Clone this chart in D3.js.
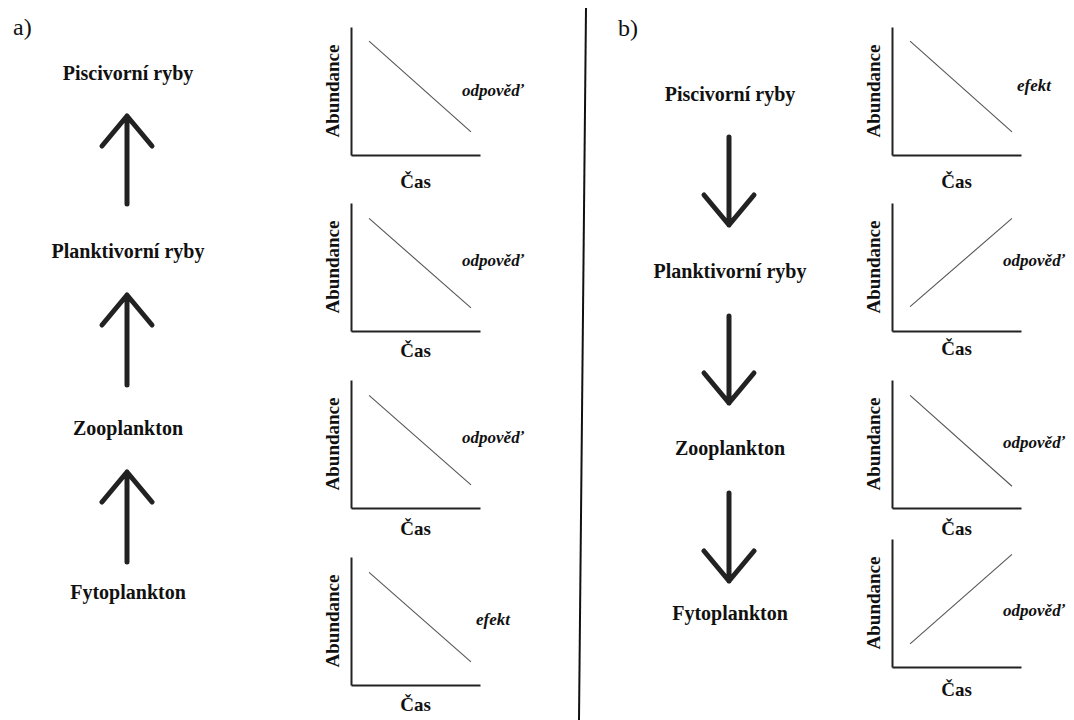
<!DOCTYPE html>
<html>
<head>
<meta charset="utf-8">
<script src="https://cdn.jsdelivr.net/npm/d3@7"></script>
<style>
  html, body { margin: 0; padding: 0; background: #fff; }
  svg { display: block; }
</style>
</head>
<body>
<svg id="chart" width="1074" height="720"></svg>
<script>
// ---------------- data ----------------
const panelLabels = ["a)", "b)"];
const levelsA = ["Piscivorní ryby", "Planktivorní ryby", "Zooplankton", "Fytoplankton"];
const levelsB = ["Piscivorní ryby", "Planktivorní ryby", "Zooplankton", "Fytoplankton"];
const arrowDirA = ["up", "up", "up"];
const arrowDirB = ["down", "down", "down"];
const timeSpan = [0.14, 0.93];               // start / end on the Čas axis
const abundanceA = [[0.89, 0.18], [0.88, 0.18], [0.88, 0.18], [0.88, 0.18]];
const abundanceB = [[0.89, 0.18], [0.19, 0.88], [0.88, 0.17], [0.18, 0.88]];
const roleA = ["odpověď", "odpověď", "odpověď", "efekt"];
const roleB = ["efekt", "odpověď", "odpověď", "odpověď"];
const axisTitleX = "Čas";
const axisTitleY = "Abundance";

// ---------------- layout ----------------
const FONT = "Liberation Serif";
const layout = {
  a: { labelX: 13, labelY: 35, levelX: 128, levelY: [80, 258, 435, 599],
       arrowX: 127, arrows: [[116, 204], [295, 385], [472, 562]],
       chartX: 351, chartTops: [27, 203, 380, 557], casOff: [33, 26, 27, 26],
       roleOff: [69, 63, 63, 68] },
  b: { labelX: 618, labelY: 36, levelX: 730, levelY: [101, 278, 455, 620],
       arrowX: 729, arrows: [[137, 225], [316, 403], [493, 581]],
       chartX: 892, chartTops: [27, 203, 380, 539], casOff: [33, 24, 27, 29],
       roleOff: [64, 63, 68, 77] },
  chartW: 129, chartH: 128
};

const svg = d3.select("#chart");

// divider
svg.append("line")
  .attr("x1", 586).attr("y1", 8).attr("x2", 579).attr("y2", 720)
  .attr("stroke", "#111").attr("stroke-width", 2);

function txt(g) {
  return g.append("text").style("font-family", FONT).attr("fill", "#111");
}

function drawArrow(g, x, yA, yB, dir) {
  const tip = dir === "up" ? Math.min(yA, yB) : Math.max(yA, yB);
  const tail = dir === "up" ? Math.max(yA, yB) : Math.min(yA, yB);
  const s = dir === "up" ? 1 : -1;
  const p = d3.path();
  p.moveTo(x, tail); p.lineTo(x, tip);
  p.moveTo(x - 25, tip + s * 30); p.lineTo(x, tip); p.lineTo(x + 25, tip + s * 30);
  g.append("path").attr("d", p.toString())
    .attr("fill", "none").attr("stroke", "#222").attr("stroke-width", 5)
    .attr("stroke-linecap", "round").attr("stroke-linejoin", "round");
}

function drawPanel(L, label, levels, dirs, abundance, roles) {
  const g = svg.append("g");
  txt(g).attr("x", L.labelX).attr("y", L.labelY)
    .style("font-size", "24px").text(label);

  levels.forEach((t, i) => {
    txt(g).attr("x", L.levelX).attr("y", L.levelY[i])
      .attr("text-anchor", "middle").style("font-size", "20px").style("font-weight", "bold")
      .text(t);
  });
  dirs.forEach((d, i) => drawArrow(g, L.arrowX, L.arrows[i][0], L.arrows[i][1], d));

  abundance.forEach((vals, i) => {
    const top = L.chartTops[i];
    const x = d3.scaleLinear().domain([0, 1]).range([L.chartX, L.chartX + layout.chartW]);
    const y = d3.scaleLinear().domain([0, 1]).range([top + layout.chartH, top]);
    const cg = g.append("g");

    const ax = cg.append("g").attr("transform", `translate(0,${top + layout.chartH})`)
      .call(d3.axisBottom(x).ticks(0).tickSizeOuter(0));
    const ay = cg.append("g").attr("transform", `translate(${L.chartX},0)`)
      .call(d3.axisLeft(y).ticks(0).tickSizeOuter(0));
    [ax, ay].forEach(a => a.select(".domain").attr("stroke", "#222").attr("stroke-width", 2));

    const pts = timeSpan.map((t, k) => [t, vals[k]]);
    cg.append("path").datum(pts)
      .attr("d", d3.line().x(d => x(d[0])).y(d => y(d[1])))
      .attr("fill", "none").attr("stroke", "#555").attr("stroke-width", 1.1);

    txt(cg)
      .attr("transform", `translate(${L.chartX - 12},${top + layout.chartH / 2}) rotate(-90)`)
      .attr("text-anchor", "middle").style("font-size", "19px").style("font-weight", "bold")
      .text(axisTitleY);
    txt(cg)
      .attr("x", L.chartX + layout.chartW / 2).attr("y", top + layout.chartH + L.casOff[i])
      .attr("text-anchor", "middle").style("font-size", "19px").style("font-weight", "bold")
      .text(axisTitleX);
    txt(cg)
      .attr("x", L.chartX + 142).attr("y", top + L.roleOff[i])
      .attr("text-anchor", "middle").style("font-size", "17px").style("font-weight", "bold")
      .style("font-style", "italic")
      .text(roles[i]);
  });
}

drawPanel(layout.a, panelLabels[0], levelsA, arrowDirA, abundanceA, roleA);
drawPanel(layout.b, panelLabels[1], levelsB, arrowDirB, abundanceB, roleB);
</script>
</body>
</html>
